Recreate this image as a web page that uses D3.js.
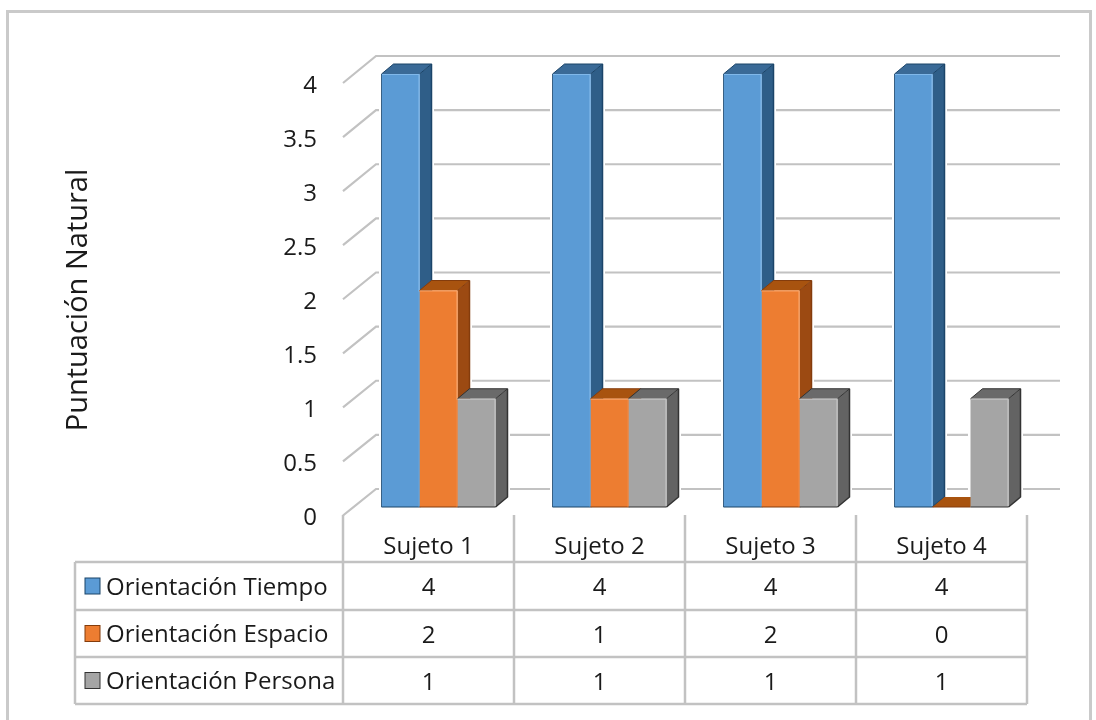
<!DOCTYPE html>
<html><head><meta charset="utf-8">
<script src="https://cdnjs.cloudflare.com/ajax/libs/d3/7.8.5/d3.min.js"></script>
<style>html,body{margin:0;padding:0;background:#fff}svg{display:block;filter:blur(0.45px)}text{font-family:"Open Sans",sans-serif;fill:#1a1a1a}</style>
</head><body><div id="c"></div>
<script>
const categories=["Sujeto 1","Sujeto 2","Sujeto 3","Sujeto 4"];
const seriesNames=["Orientación Tiempo","Orientación Espacio","Orientación Persona"];
const tiempo=[4,4,4,4];
const espacio=[2,1,2,0];
const persona=[1,1,1,1];
const yTicks=[0,0.5,1,1.5,2,2.5,3,3.5,4];
const seriesValues=[tiempo,espacio,persona];
const front=["#5b9bd5","#ed7d31","#a5a5a5"];
const side=["#2f5e88","#9c4a12","#636363"];
const top_=["#3a6a97","#a8530f","#6a6a6a"];
const edge=["#1b4469","#843c0c","#333333"];
const shine=["#80b8ea","#f9a468","#c4c4c4"];

const W=1096,H=720;
const svg=d3.select("#c").append("svg").attr("width",W).attr("height",H);
svg.append("rect").attr("x",7.5).attr("y",11.5).attr("width",1083).attr("height",720)
  .attr("fill","#fff").attr("stroke","#cacaca").attr("stroke-width",3);

const grid="#c2c2c2";
const x=d3.scaleBand().domain(categories).range([343,1027]);
const xs=d3.scaleBand().domain(d3.range(3)).range([0,114]);
const barPad=38.5;
const yFront=d3.scaleLinear().domain([0,4]).range([515.5,83]);
const yBack=d3.scaleLinear().domain([0,4]).range([489,56]);
const yBar=d3.scaleLinear().domain([0,4]).range([507,74]);
const backL=376,backR=1060,frontL=343,dx=12,dy=10;

const g=svg.append("g").attr("fill","none").attr("stroke",grid).attr("stroke-width",2.2);
yTicks.forEach(t=>{
  g.append("path").attr("d",`M${frontL},${yFront(t)}L${backL},${yBack(t)}L${backR},${yBack(t)}`);
});

const shape=(ci,si)=>{
  const v=seriesValues[si][ci];
  const l=x(categories[ci])+barPad+xs(si), r=l+xs.bandwidth();
  return {v,l,r,t:yBar(v),b:yBar(0)};
};
categories.forEach((c,ci)=>seriesValues.forEach((vals,si)=>{
  const {l,r,t,b}=shape(ci,si);
  svg.append("polygon").attr("points",[[l,b],[l,t],[l+dx,t-dy],[r+dx,t-dy],[r+dx,b-dy],[r,b]].join(" "))
    .attr("fill","#fff").attr("stroke","#fff").attr("stroke-width",5);
}));
categories.forEach((c,ci)=>seriesValues.forEach((vals,si)=>{
  const {v,l,r,t,b}=shape(ci,si);
  const bg=svg.append("g");
  bg.append("polygon").attr("points",[[r,t],[r+dx,t-dy],[r+dx,b-dy],[r,b]].join(" ")).attr("fill",side[si]);
  bg.append("polygon").attr("points",[[l,t],[l+dx,t-dy],[r+dx,t-dy],[r,t]].join(" ")).attr("fill",top_[si]);
  bg.append("rect").attr("x",l).attr("y",t).attr("width",r-l).attr("height",b-t).attr("fill",front[si]);
  bg.append("path").attr("d",`M${l},${b}H${r}`).attr("stroke",edge[si]).attr("stroke-width",1).attr("fill","none");
  if(v>0){
    bg.append("path").attr("d",`M${r+dx},${t-dy}V${b-dy}L${r},${b}`).attr("stroke",edge[si]).attr("stroke-width",1.5).attr("fill","none");
    bg.append("path").attr("d",`M${l},${t}L${l+dx},${t-dy}H${r+dx}L${r},${t}`).attr("stroke",edge[si]).attr("stroke-width",1).attr("fill","none");
    bg.append("path").attr("d",`M${l},${t+0.5}H${r-0.5}V${b-1}`).attr("stroke",shine[si]).attr("stroke-width",1.2).attr("fill","none");
    if(si===0) bg.append("path").attr("d",`M${l},${t}V${b}`).attr("stroke",edge[si]).attr("stroke-width",0.8).attr("fill","none");
  }
}));
categories.forEach((c,ci)=>[1,2].forEach(si=>{
  const {v,l,t,b}=shape(ci,si);
  const prev=seriesValues[si-1][ci];
  if(v>0&&prev>=v) svg.append("rect").attr("x",l-1.2).attr("y",t+1).attr("width",1.2).attr("height",b-t-1.5).attr("fill",front[si-1]);
}));

const fs=24;
svg.append("g").selectAll("text").data(yTicks).join("text")
  .attr("x",317).attr("y",d=>yFront(d)+9.5).attr("text-anchor","end").attr("font-size",fs).text(d=>d);
svg.append("text").attr("transform","translate(87,300) rotate(-90)").attr("text-anchor","middle").attr("font-size",29).text("Puntuación Natural");

const rowsY=[562,610,657,704];
const tb=svg.append("g").attr("stroke",grid).attr("stroke-width",2.5).attr("fill","none");
rowsY.forEach(y=>tb.append("line").attr("x1",75).attr("x2",1027).attr("y1",y).attr("y2",y));
tb.append("line").attr("x1",75).attr("x2",75).attr("y1",562).attr("y2",704);
[...categories.map(c=>x(c)),1027].forEach(v=>tb.append("line").attr("x1",v).attr("x2",v).attr("y1",515).attr("y2",704));

svg.append("g").selectAll("text").data(categories).join("text")
  .attr("x",d=>x(d)+x.bandwidth()/2).attr("y",554).attr("text-anchor","middle").attr("font-size",fs).text(d=>d);
seriesNames.forEach((n,si)=>{
  const cy=(rowsY[si]+rowsY[si+1])/2;
  svg.append("rect").attr("x",85).attr("y",cy-8).attr("width",15).attr("height",16).attr("fill",front[si]).attr("stroke",edge[si]).attr("stroke-width",1);
  svg.append("text").attr("x",106).attr("y",cy+8.5).attr("font-size",fs).text(n);
  categories.forEach((c,ci)=>{
    svg.append("text").attr("x",x(c)+x.bandwidth()/2).attr("y",cy+9).attr("text-anchor","middle").attr("font-size",fs).text(seriesValues[si][ci]);
  });
});
</script></body></html>
